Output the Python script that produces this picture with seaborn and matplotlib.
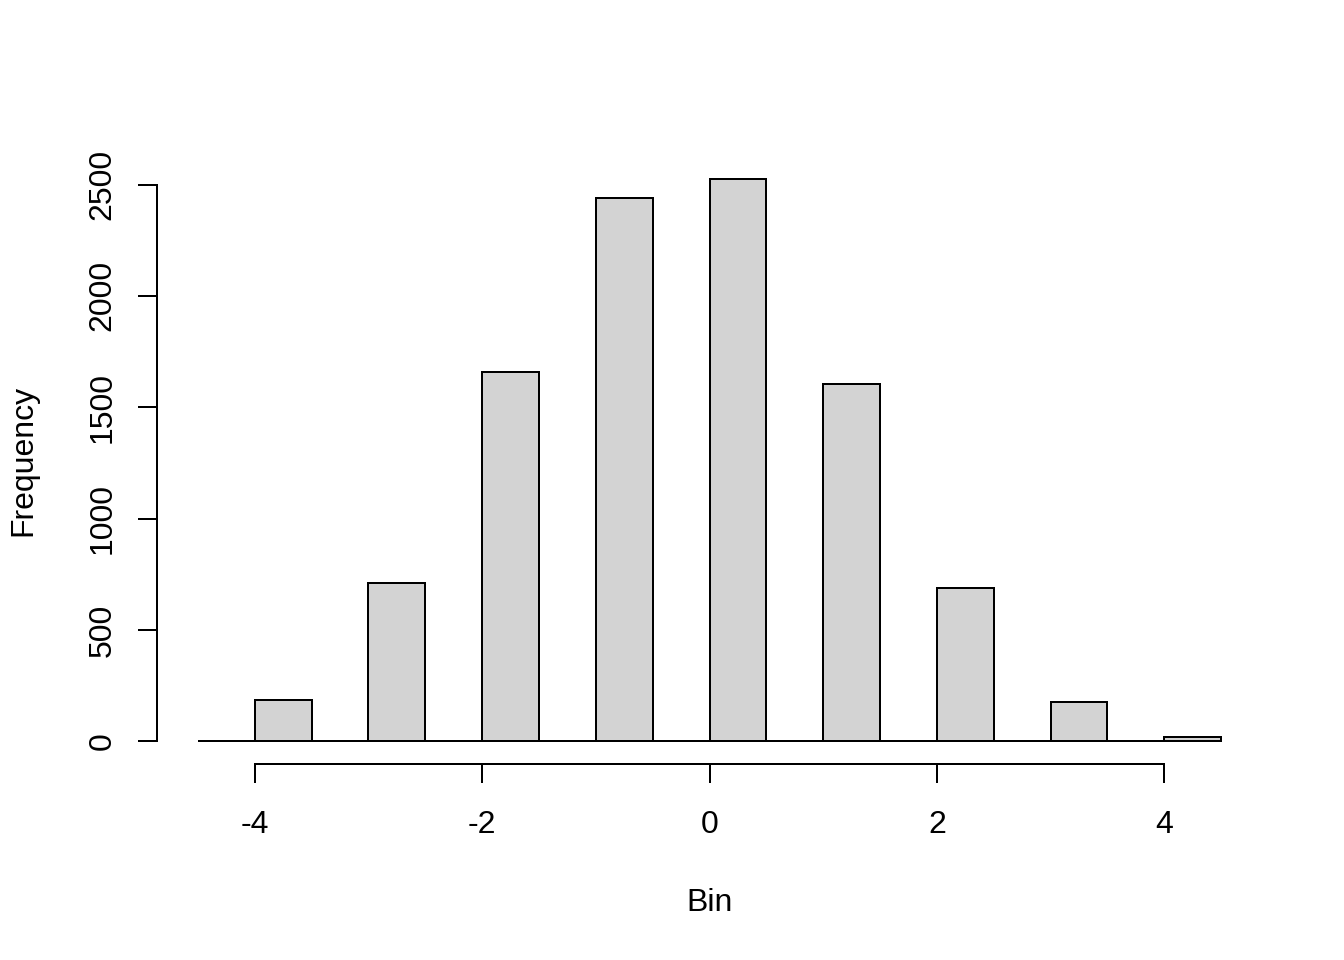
import numpy as np
import pandas as pd
import matplotlib
matplotlib.use("Agg")
import matplotlib.pyplot as plt
import seaborn as sns

sns.set_style("ticks")
plt.rcParams['font.family'] = ['Liberation Sans', 'DejaVu Sans']

# histogram bins (width 0.5) and counts
bin_edges = [-4.5, -4.0, -3.5, -3.0, -2.5, -2.0, -1.5, -1.0, -0.5, 0.0,
             0.5, 1.0, 1.5, 2.0, 2.5, 3.0, 3.5, 4.0, 4.5]
counts = [4, 184, 0, 710, 0, 1658, 0, 2440, 0, 2527,
          0, 1605, 0, 688, 0, 175, 0, 18]

edges = np.array(bin_edges)
df = pd.DataFrame({'Bin': (edges[:-1] + edges[1:]) / 2, 'Frequency': counts})

fig = plt.figure(figsize=(7, 5), dpi=192)
ax = fig.add_axes([157 / 1344, 1 - 764 / 960, (1262 - 157) / 1344, (764 - 156) / 960])

sns.histplot(data=df, x='Bin', weights='Frequency', bins=bin_edges,
             color='#D3D3D3', edgecolor='black', linewidth=0.75, alpha=1, ax=ax)

# R style: 4% padding on both axes
xr = edges[-1] - edges[0]
ax.set_xlim(edges[0] - 0.04 * xr, edges[-1] + 0.04 * xr)
ymax = max(counts)
ax.set_ylim(-0.04 * ymax, ymax * 1.04)

ax.set_xticks([-4, -2, 0, 2, 4])
ax.set_xticklabels(['-4', '-2', '0', '2', '4'])
ax.set_yticks([0, 500, 1000, 1500, 2000, 2500])
ax.set_yticklabels(['0', '500', '1000', '1500', '2000', '2500'], rotation=90, va='center')

for s in ['top', 'right']:
    ax.spines[s].set_visible(False)
ax.spines['left'].set_bounds(0, 2500)
ax.spines['bottom'].set_bounds(-4, 4)
for s in ['left', 'bottom']:
    ax.spines[s].set_linewidth(0.75)
    ax.spines[s].set_color('black')

ax.tick_params(axis='x', pad=10)
ax.tick_params(axis='y', pad=7.5)
ax.tick_params(axis='both', length=7.2, width=0.75, labelsize=12, colors='black')
ax.set_xlabel('Bin', fontsize=12, labelpad=18, color='black')
ax.set_ylabel('Frequency', fontsize=12, labelpad=18.5, color='black')

fig.savefig('out.png', dpi=192)
